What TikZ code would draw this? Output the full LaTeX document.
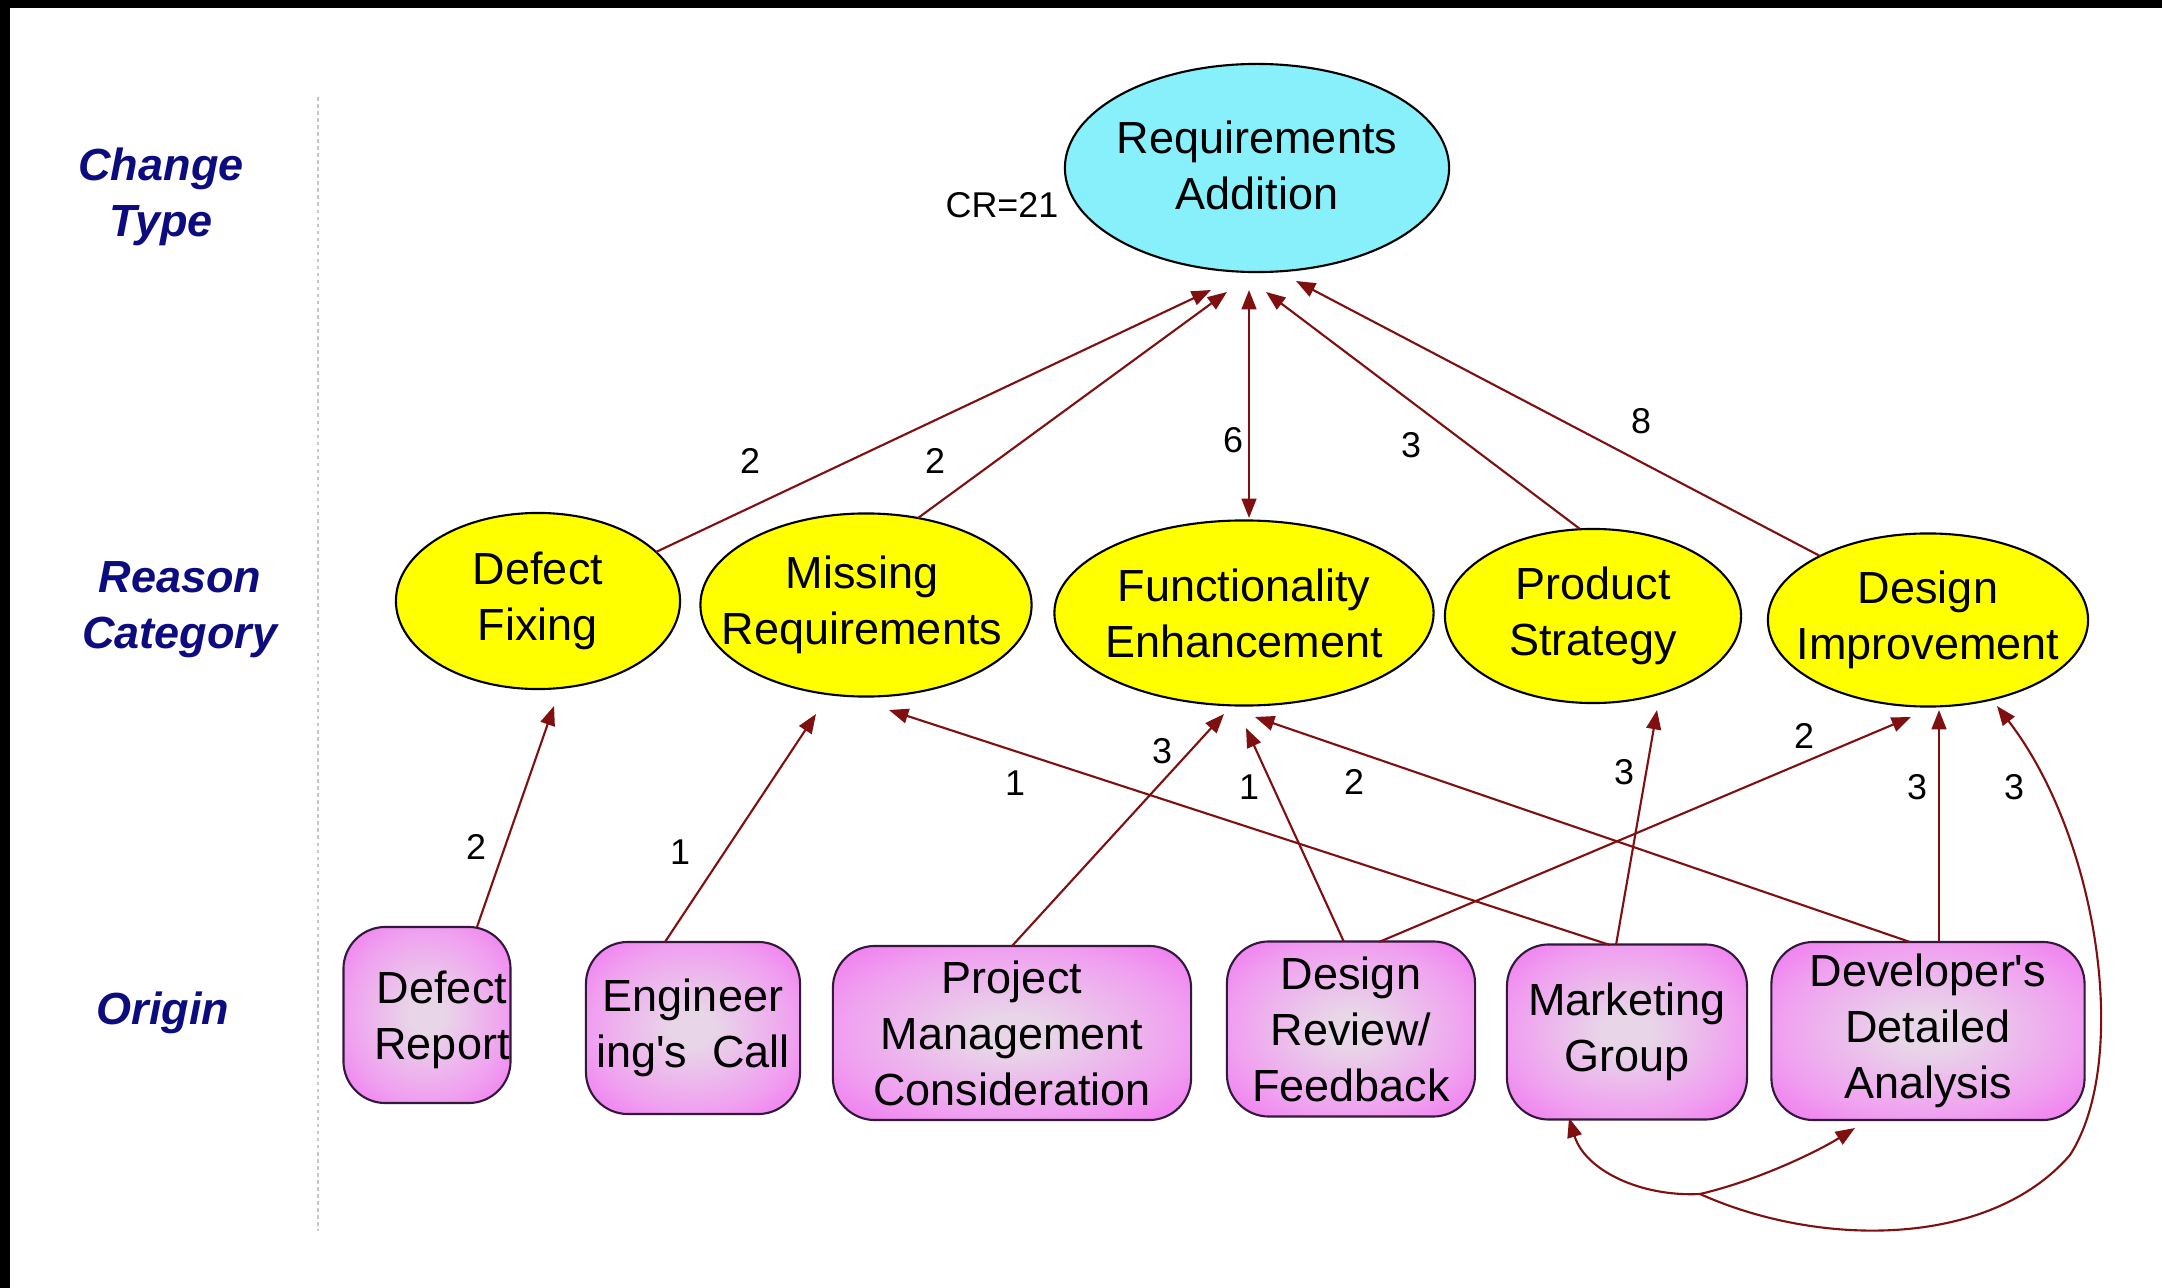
\documentclass[tikz,border=0pt]{standalone}
\usepackage{fontspec}
\setmainfont{Liberation Sans}
\usetikzlibrary{arrows.meta,calc,shapes.geometric}
\definecolor{arrowred}{RGB}{128,16,16}
\definecolor{cyanfill}{RGB}{136,240,250}
\definecolor{yel}{RGB}{255,255,0}
\definecolor{boxin}{RGB}{232,214,232}
\definecolor{boxmid}{RGB}{240,160,240}
\definecolor{boxout}{RGB}{240,110,240}
\definecolor{navy}{RGB}{12,12,128}
\definecolor{boxline}{RGB}{50,25,60}
\pgfdeclareradialshading{boxshade}{\pgfpoint{0bp}{0bp}}{color(0bp)=(boxin); color(5bp)=(boxin); color(24bp)=(boxmid); color(38bp)=(boxout); color(72bp)=(boxout)}
\tikzset{
  ell/.style={ellipse, draw=black, line width=0.6pt, inner sep=0pt},
  ytxt/.style={align=center, inner sep=0pt, font=\fontsize{12.8}{15.9}\selectfont},
  box/.style={rectangle, rounded corners=0.42cm, draw=boxline, line width=0.6pt, shading=boxshade, align=center, inner sep=0pt, font=\fontsize{12.8}{15.9}\selectfont},
  side/.style={align=center, inner sep=0pt, text=navy, font=\fontsize{12.8}{15.9}\selectfont\bfseries\itshape},
  arr/.style={draw=arrowred, line width=0.6pt, -{Triangle[length=5.5pt,width=4.2pt]}},
  lab/.style={inner sep=0pt, font=\fontsize{10.2}{12}\selectfont},
}
\begin{document}
\begin{tikzpicture}[x=0.01cm,y=-0.01cm]
\useasboundingbox (0,0) rectangle (2162,1288);
\fill[white] (0,0) rectangle (2162,1288);
\fill[black] (0,0) rectangle (2162,8);
\fill[black] (0,0) rectangle (10,1288);
% left labels
\node[side] (lct) at (161,197) {Change\\Type};
\node[side] (lrc) at (180,610) {Reason\\Category};
\node[side] (lor) at (163,1013) {Origin};
\draw[gray!45, line width=0.5pt, dash pattern=on 1pt off 1pt] (318,97) -- (318,1231);
% top
\node[ell, fill=cyanfill, minimum width=3.84cm, minimum height=2.08cm] (RA) at (1257,168) {};
\node[ytxt] (RAt) at (1257,165) {Requirements\\Addition};
\node[lab] (cr) at (1002,205) {CR=21};
% reason
\node[ell, fill=yel, minimum width=2.84cm, minimum height=1.76cm] (DF) at (538,601) {};
\node[ytxt] (DFt) at (DF) {Defect\\Fixing};
\node[ell, fill=yel, minimum width=3.31cm, minimum height=1.83cm] (MR) at (866,605) {};
\node[ytxt] (MRt) at (862,605) {Missing\\Requirements};
\node[ell, fill=yel, minimum width=3.79cm, minimum height=1.85cm] (FE) at (1244,613) {};
\node[ytxt] (FEt) at (FE) {Functionality\\Enhancement};
\node[ell, fill=yel, minimum width=2.96cm, minimum height=1.74cm] (PS) at (1593,616) {};
\node[ytxt] (PSt) at (PS) {Product\\Strategy};
\node[ell, fill=yel, minimum width=3.20cm, minimum height=1.73cm] (DI) at (1928,620) {};
\node[ytxt] (DIt) at (DI) {Design\\Improvement};
% origin
\node[box, minimum width=1.67cm, minimum height=1.76cm] (DR) at (427,1015) {};
\node[ytxt] (DRt) at (442,1020) {Defect\\Report};
\node[box, minimum width=2.14cm, minimum height=1.72cm] (EC) at (693,1028) {Engineer\\ing\textquotesingle s\ \ Call};
\node[box, minimum width=3.58cm, minimum height=1.74cm] (PMC) at (1012,1033) {Project\\Management\\Consideration};
\node[box, minimum width=2.48cm, minimum height=1.75cm] (DRF) at (1351,1029) {Design\\Review/\\Feedback};
\node[box, minimum width=2.40cm, minimum height=1.75cm] (MG) at (1627,1032) {Marketing\\Group};
\node[box, minimum width=3.13cm, minimum height=1.78cm] (DDA) at (1928,1031) {Developer\textquotesingle s\\Detailed\\Analysis};
% edges to top
\draw[arr] ($(DF)+(118,-49)$) -- ($(RA)+(-46,122)$);
\draw[arr] ($(MR)+(52,-87)$) -- ($(RA)+(-30,124)$);
\draw[arr, {Triangle[length=5.5pt,width=4.2pt]}-{Triangle[length=5.5pt,width=4.2pt]}] ($(FE)+(5,-95)$) -- ($(RA)+(-8,122)$);
\draw[arr] ($(PS)+(-13,-87)$) -- ($(RA)+(9,124)$);
\draw[arr] ($(DI)+(-108,-64)$) -- ($(RA)+(39,113)$);
\node[lab] (l1) at (750,461) {2};
\node[lab] (l2) at (935,461) {2};
\node[lab] (l3) at (1233,440) {6};
\node[lab] (l4) at (1411,445) {3};
\node[lab] (l5) at (1641,421) {8};
% edges from origin
\draw[arr] ($(DR)+(50,-88)$) -- ($(DF)+(16,105)$);
\draw[arr] ($(EC)+(-28,-86)$) -- ($(MR)+(-50,109)$);
\draw[arr] ($(PMC)+(0,-87)$) -- ($(FE)+(-20,101)$);
\draw[arr] ($(DRF)+(-7,-87)$) -- ($(FE)+(2,115)$);
\draw[arr] ($(DDA)+(-18,-89)$) -- ($(FE)+(11,104)$);
\draw[arr] ($(MG)+(-17,-87)$) -- ($(MR)+(23,105)$);
\draw[arr] ($(MG)+(-11,-87)$) -- ($(PS)+(64,94)$);
\draw[arr] ($(DRF)+(28,-87)$) -- ($(DI)+(-17,97)$);
\draw[arr] ($(DDA)+(11,-89)$) -- ($(DI)+(11,90)$);
\node[lab] (l6) at (476,847) {2};
\node[lab] (l7) at (680,852) {1};
\node[lab] (l8) at (1162,751) {3};
\node[lab] (l9) at (1249,787) {1};
\node[lab] (l10) at (1354,782) {2};
\node[lab] (l11) at (1015,783) {1};
\node[lab] (l12) at (1624,772) {3};
\node[lab] (l13) at (1804,736) {2};
\node[lab] (l14) at (1917,787) {3};
\node[lab] (l15) at (2014,787) {3};
% loop
\coordinate (J) at (1700,1194);
\draw[arr] (J) .. controls (1640,1197) and (1585,1170) .. ($(MG)+(-58,86)$);
\draw[arr] (J) .. controls (1760,1180) and (1820,1150) .. ($(DDA)+(-73,97)$);
\draw[arr] (J) .. controls (1820,1248) and (1990,1248) .. (2070,1155) .. controls (2130,1062) and (2100,840) .. ($(DI)+(69,86)$);
\end{tikzpicture}
\end{document}
